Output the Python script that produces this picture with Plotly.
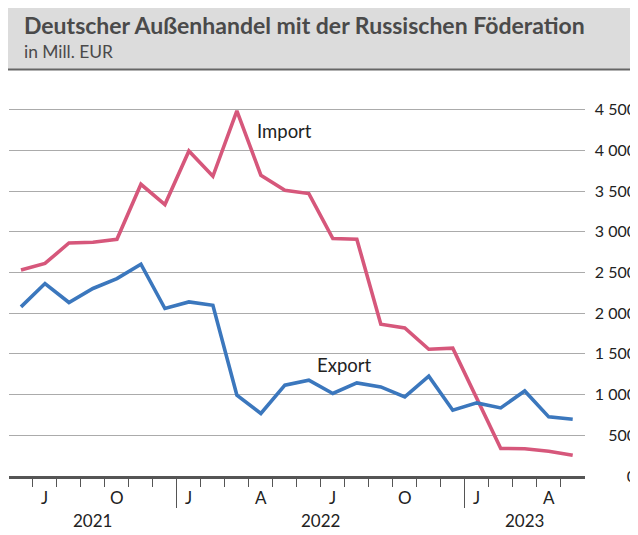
import plotly.graph_objects as go

# ---- data (monthly, June 2021 .. May 2023) ----
months = ["2021-06", "2021-07", "2021-08", "2021-09", "2021-10", "2021-11", "2021-12",
          "2022-01", "2022-02", "2022-03", "2022-04", "2022-05", "2022-06", "2022-07",
          "2022-08", "2022-09", "2022-10", "2022-11", "2022-12",
          "2023-01", "2023-02", "2023-03", "2023-04", "2023-05"]
import_vals = [2530, 2610, 2862, 2871, 2908, 3583, 3334, 3992, 3681, 4483, 3694, 3510,
               3469, 2916, 2908, 1864, 1819, 1557, 1570, 955, 338, 335, 305, 255]
export_vals = [2077, 2364, 2131, 2303, 2425, 2601, 2057, 2138, 2097, 992, 768, 1115,
               1176, 1013, 1143, 1094, 971, 1226, 808, 898, 836, 1045, 726, 697]

month_label_idx = [1, 4, 7, 10, 13, 16, 19, 22]
month_label_txt = ["J", "O", "J", "A", "J", "O", "J", "A"]
year_labels = ["2021", "2022", "2023"]
year_start_idx = [0, 7, 19]
year_end_idx = [7, 19, 24]

y_tickvals = [0, 500, 1000, 1500, 2000, 2500, 3000, 3500, 4000, 4500]
y_ticktext = ["0", "500", "1 000", "1 500", "2 000", "2 500", "3 000", "3 500", "4 000", "4 500"]

# ---- layout geometry (page pixels; the page body has an 8px margin) ----
OFF = 8
W, H = 638 - OFF, 535 - OFF
L, R, T, B = 9 - OFF, 0, 100 - OFF, 535 - 476
PW, PH = W - L - R, H - T - B
XDOM = (584.7 - OFF - L) / PW
YMAX = PH / 366.4 * 4500

def px(xp):
    return (xp - OFF - L) / PW

def py(yp):
    return (H - B - (yp - OFF)) / PH

FONT = "Lato"
xs = [i + 0.5 for i in range(len(months))]

fig = go.Figure()
fig.add_trace(go.Scatter(x=xs, y=import_vals, mode="lines", name="Import",
                         line=dict(color="#d6577b", width=3.6), hoverinfo="skip"))
fig.add_trace(go.Scatter(x=xs, y=export_vals, mode="lines", name="Export",
                         line=dict(color="#3b77bd", width=3.6), hoverinfo="skip"))
fig.add_trace(go.Scatter(x=[], y=[], xaxis="x2", yaxis="y2", showlegend=False))

minor_ticks = [i for i in range(1, 24) if i not in year_start_idx]

fig.update_layout(
    width=W, height=H,
    margin=dict(l=L, r=R, t=T, b=B, autoexpand=False),
    paper_bgcolor="white", plot_bgcolor="white",
    showlegend=False,
    font=dict(family=FONT, color="#222222"),
    xaxis=dict(domain=[0, XDOM], range=[0, 24], tickvals=minor_ticks,
               ticktext=[""] * len(minor_ticks), ticks="outside", ticklen=8,
               tickwidth=1.4, tickcolor="#555555", showgrid=False, zeroline=False,
               showline=True, linecolor="#555555", linewidth=2.5, fixedrange=True,
               automargin=False),
    xaxis2=dict(overlaying="x", anchor="y", side="bottom", domain=[0, XDOM], range=[0, 24],
                tickvals=year_start_idx[1:], ticktext=["", ""], ticks="outside",
                ticklen=31, tickwidth=1.4, tickcolor="#555555", showgrid=False,
                zeroline=False, showline=False, automargin=False),
    yaxis=dict(range=[0, YMAX], tickvals=y_tickvals, showticklabels=False,
               showgrid=True, gridcolor="#ababab", gridwidth=1.4, zeroline=False,
               ticks="", fixedrange=True, automargin=False),
    yaxis2=dict(overlaying="y", side="left", anchor="free", position=px(636),
                range=[0, YMAX], tickvals=y_tickvals, ticktext=y_ticktext,
                showgrid=False, zeroline=False, showline=False, ticks="",
                automargin=False,
                tickfont=dict(family=FONT, size=16, color="#222222")),
)

shapes = [
    dict(type="rect", xref="paper", yref="paper", x0=px(8), x1=px(635), y0=py(8), y1=py(69),
         fillcolor="#dcdcdc", line=dict(width=0), layer="below"),
    dict(type="line", xref="paper", yref="paper", x0=px(8), x1=px(634), y0=py(69.5), y1=py(69.5),
         line=dict(color="#666666", width=2)),
]
fig.update_layout(shapes=shapes)

ann = []
ann.append(dict(text="Deutscher Außenhandel mit der Russischen Föderation", xref="paper", yref="paper",
                x=px(22), y=py(25), xanchor="left", yanchor="middle", showarrow=False,
                font=dict(family=FONT, size=23, color="#4a4a4a", weight="bold")))
ann.append(dict(text="in Mill. EUR", xref="paper", yref="paper",
                x=px(22), y=py(51), xanchor="left", yanchor="middle", showarrow=False,
                font=dict(family=FONT, size=17.4, color="#4a4a4a")))
for i, t in zip(month_label_idx, month_label_txt):
    ann.append(dict(text=t, xref="x", yref="paper", x=i + 0.5, y=py(497),
                    xanchor="center", yanchor="middle", showarrow=False,
                    font=dict(family=FONT, size=17, color="#222222")))
for t, a, b in zip(year_labels, year_start_idx, year_end_idx):
    ann.append(dict(text=t, xref="x", yref="paper", x=(a + b) / 2, y=py(520),
                    xanchor="center", yanchor="middle", showarrow=False,
                    font=dict(family=FONT, size=17, color="#222222")))
ann.append(dict(text="Import", xref="paper", yref="paper", x=px(255), y=py(131),
                xanchor="left", yanchor="middle", showarrow=False,
                font=dict(family=FONT, size=18.5, color="#222222")))
ann.append(dict(text="Export", xref="paper", yref="paper", x=px(315), y=py(365),
                xanchor="left", yanchor="middle", showarrow=False,
                font=dict(family=FONT, size=18.5, color="#222222")))
fig.update_layout(annotations=ann)

fig.write_html("out.html")
